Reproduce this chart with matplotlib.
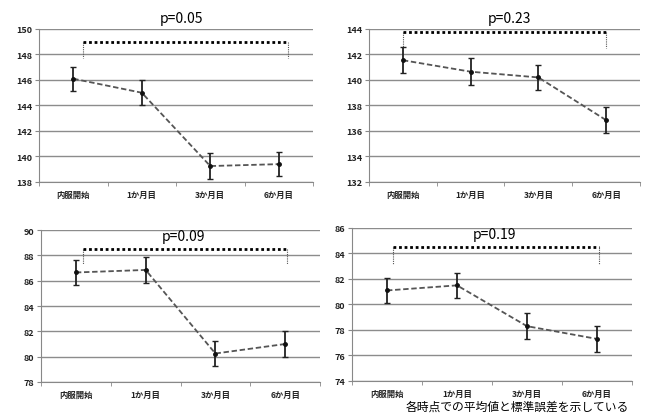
import matplotlib
matplotlib.use('Agg')
import matplotlib.pyplot as plt
import numpy as np

plt.rcParams['font.family'] = ['Noto Sans CJK JP', 'DejaVu Sans']

labels = ['内服開始', '1か月目', '3か月目', '6か月目']

mean1 = [146.1, 145.0, 139.25, 139.4]
se1 = [0.95, 1.0, 1.0, 0.95]
mean2 = [141.55, 140.65, 140.2, 136.85]
se2 = [1.0, 1.05, 1.0, 1.0]
mean3 = [86.65, 86.85, 80.25, 81.0]
se3 = [1.0, 1.0, 1.0, 1.0]
mean4 = [81.1, 81.5, 78.3, 77.3]
se4 = [1.0, 1.0, 1.0, 1.05]

titles = ['p=0.05', 'p=0.23', 'p=0.09', 'p=0.19']
ylims = [(138, 150), (132, 144), (78, 90), (74, 86)]
# bracket: height, x start, x end, bottom of the end ticks
brackets = [(149, 0.14, 3.13, 147.7),
            (143.8, 0.0, 3.0, 142.5),
            (88.5, 0.1, 3.03, 87.3),
            (84.5, 0.09, 3.03, 83.2)]

fig = plt.figure(figsize=(6.47, 4.14), dpi=100)
rects = [[0.0603, 0.558, 0.4235, 0.3696],
         [0.5703, 0.558, 0.4189, 0.3696],
         [0.0634, 0.0749, 0.4312, 0.367],
         [0.544, 0.0773, 0.4328, 0.3696]]
means = [mean1, mean2, mean3, mean4]
ses = [se1, se2, se3, se4]

x = np.arange(len(labels))
for i in range(4):
    ax = fig.add_axes(rects[i])
    lo, hi = ylims[i]
    ax.set_ylim(lo, hi)
    ax.set_xlim(-0.5, 3.5)
    ax.set_yticks(np.arange(lo, hi + 1, 2))
    ax.grid(axis='y', color='#8c8c8c', linewidth=1.0)
    ax.set_axisbelow(True)

    ax.errorbar(x, means[i], yerr=ses[i], fmt='none', ecolor='#222222',
                elinewidth=1.3, capsize=2.5, capthick=1.0, zorder=3)
    ax.plot(x, means[i], linestyle=(0, (3, 1.5)), color='#555555',
            linewidth=1.3, zorder=4)
    ax.plot(x, means[i], 'o', color='#111111', markersize=2.5, zorder=5)

    by, bx0, bx1, bb = brackets[i]
    ax.plot([bx0, bx1], [by, by], linestyle=(0, (1, 1)), color='black',
            linewidth=2.0, zorder=4)
    ax.plot([bx0, bx0], [by, bb], linestyle=(0, (1, 1)), color='#555555',
            linewidth=0.8)
    ax.plot([bx1, bx1], [by, bb], linestyle=(0, (1, 1)), color='#555555',
            linewidth=0.8)

    ax.set_xticks(x)
    ax.set_xticklabels(labels, fontsize=6, fontweight='bold', color='#222222')
    ax.set_xticks(np.arange(-0.5, 4, 1), minor=True)
    ax.tick_params(axis='x', which='major', length=0, pad=6)
    ax.tick_params(axis='x', which='minor', length=3, color='#888888')
    ax.tick_params(axis='y', length=3, color='#888888', labelsize=6.5,
                   labelcolor='#222222', pad=2)
    for lab in ax.get_yticklabels():
        lab.set_fontweight('bold')

    for s in ['top', 'right']:
        ax.spines[s].set_visible(False)
    for s in ['left', 'bottom']:
        ax.spines[s].set_color('#888888')

    if i < 2:
        ax.text(0.52, 1.07, titles[i], transform=ax.transAxes, ha='center',
                va='center', fontsize=10)
    else:
        ax.text(0.51, 0.96, titles[i], transform=ax.transAxes, ha='center',
                va='center', fontsize=10)

fig.text(0.80, 0.0, '各時点での平均値と標準誤差を示している', ha='center',
         va='bottom', fontsize=8.5)

fig.savefig('out.png', dpi=100)
